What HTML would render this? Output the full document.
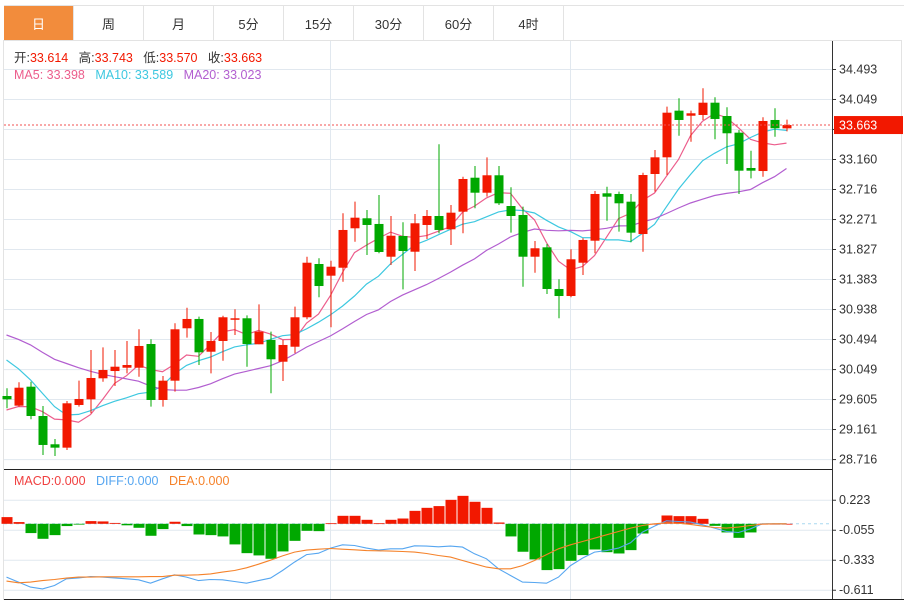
<!DOCTYPE html>
<html><head><meta charset="utf-8"><style>
body{margin:0;background:#fff;font-family:"Liberation Sans","Noto Sans CJK SC",sans-serif;}
#wrap{position:relative;width:908px;height:601px;overflow:hidden;}
.tabs{position:absolute;left:4px;top:5px;height:35px;width:900px;border-top:1px solid #e3e3e3;display:flex;}
.tab{width:70px;height:35px;box-sizing:border-box;border-right:1px solid #e3e3e3;font-size:13px;color:#333;display:flex;align-items:center;justify-content:center;}
.tab.on{background:#f28c3c;color:#fff;}
svg{position:absolute;left:0;top:0;}
</style></head><body><div id="wrap">
<div class="tabs">
<div class="tab on">日</div>
<div class="tab">周</div>
<div class="tab">月</div>
<div class="tab">5分</div>
<div class="tab">15分</div>
<div class="tab">30分</div>
<div class="tab">60分</div>
<div class="tab">4时</div>
</div>
<svg id="svg" width="908" height="601"></svg>
</div>
<script>
const opens=[29.650,29.507,29.788,29.354,28.935,28.885,29.517,29.601,29.912,30.020,30.069,30.069,30.420,29.591,29.877,30.653,30.791,30.306,30.465,30.791,30.801,30.416,30.480,30.158,30.380,30.816,31.605,31.432,31.550,32.134,32.282,32.198,31.713,32.020,31.787,32.183,32.316,32.119,32.380,32.883,32.661,32.919,32.464,32.331,31.713,31.852,31.235,31.131,31.624,31.950,32.652,32.642,32.528,32.049,32.938,33.185,33.876,33.801,33.812,33.994,33.797,33.550,33.027,32.982,33.738,33.614];
const closes=[29.601,29.773,29.354,28.925,28.885,29.542,29.606,29.917,30.035,30.084,30.109,30.391,29.591,29.877,30.638,30.791,30.297,30.465,30.816,30.801,30.420,30.603,30.194,30.406,30.816,31.624,31.279,31.565,32.109,32.291,32.183,31.783,32.024,31.798,32.208,32.316,32.109,32.365,32.864,32.661,32.919,32.504,32.316,31.713,31.838,31.235,31.131,31.675,31.961,32.642,32.602,32.504,32.069,32.923,33.185,33.846,33.738,33.837,33.994,33.753,33.541,32.987,32.987,33.723,33.615,33.663];
const highs=[29.764,29.853,29.862,29.502,29.013,29.576,29.877,30.331,30.371,30.331,30.465,30.638,30.490,29.946,30.727,30.958,30.825,30.598,30.839,30.934,30.845,31.008,30.603,30.480,30.973,31.713,31.690,31.654,32.356,32.528,32.405,32.627,32.316,32.223,32.346,32.405,33.378,32.479,32.898,33.057,33.185,33.057,32.741,32.454,31.946,31.901,31.379,31.823,31.986,32.686,32.750,32.676,32.642,32.957,33.293,33.935,34.059,33.876,34.207,34.074,33.926,33.590,33.283,33.778,33.911,33.743];
const lows=[29.468,29.492,29.305,28.776,28.762,28.850,29.492,29.394,29.862,29.798,29.986,29.936,29.492,29.492,29.714,30.514,30.109,29.986,30.173,30.554,30.084,30.416,29.690,29.872,30.283,30.786,31.112,30.668,31.343,31.935,31.738,31.764,31.590,31.230,31.501,31.975,32.060,31.887,32.060,32.430,32.602,32.479,32.069,31.269,31.476,31.161,30.801,31.112,31.442,31.764,32.246,32.084,31.927,31.787,32.676,32.923,33.505,33.416,33.738,33.452,33.086,32.642,32.874,32.898,33.490,33.570];
const priorCloses=[31.072,30.998,31.146,30.924,30.776,30.850,30.998,30.924,30.776,30.776,31.072,30.998,30.924,30.850,30.776,29.517,29.369,29.295,29.433];
const priceTicks=[34.493,34.049,33.605,33.160,32.716,32.271,31.827,31.383,30.938,30.494,30.049,29.605,29.161,28.716];
const macdHist=[0.062,0.016,-0.086,-0.139,-0.105,-0.021,-0.005,0.025,0.022,0.008,-0.014,-0.037,-0.111,-0.049,0.019,-0.021,-0.099,-0.105,-0.117,-0.191,-0.272,-0.293,-0.324,-0.256,-0.158,-0.065,-0.068,0.005,0.074,0.074,0.037,0.005,0.037,0.049,0.120,0.148,0.164,0.222,0.259,0.204,0.148,0.012,-0.117,-0.259,-0.330,-0.429,-0.420,-0.343,-0.290,-0.238,-0.263,-0.275,-0.244,-0.090,0.000,0.077,0.071,0.071,0.046,-0.019,-0.080,-0.130,-0.080,0,0,0];
const diffLine=[-0.494,-0.540,-0.587,-0.603,-0.572,-0.510,-0.501,-0.489,-0.494,-0.501,-0.510,-0.519,-0.550,-0.510,-0.473,-0.494,-0.526,-0.516,-0.519,-0.535,-0.550,-0.526,-0.503,-0.433,-0.355,-0.285,-0.272,-0.225,-0.195,-0.201,-0.225,-0.244,-0.232,-0.232,-0.204,-0.207,-0.213,-0.207,-0.216,-0.278,-0.324,-0.417,-0.479,-0.540,-0.544,-0.550,-0.494,-0.387,-0.318,-0.262,-0.248,-0.225,-0.176,-0.077,-0.021,0.028,0.021,0.016,-0.009,-0.040,-0.071,-0.081,-0.046,0,0,0];
const deaLine=[-0.531,-0.547,-0.540,-0.526,-0.516,-0.503,-0.494,-0.494,-0.491,-0.491,-0.491,-0.491,-0.489,-0.489,-0.476,-0.476,-0.473,-0.464,-0.448,-0.433,-0.408,-0.374,-0.337,-0.297,-0.262,-0.244,-0.235,-0.229,-0.235,-0.241,-0.248,-0.250,-0.253,-0.257,-0.262,-0.275,-0.294,-0.309,-0.340,-0.371,-0.401,-0.417,-0.417,-0.387,-0.340,-0.285,-0.232,-0.195,-0.164,-0.133,-0.102,-0.071,-0.040,-0.016,0,0.009,0.006,-0.006,-0.021,-0.034,-0.040,-0.031,-0.016,-0.003,0,0];
const macdTicks=[0.223,-0.055,-0.333,-0.611];

const NS='http://www.w3.org/2000/svg';
const svg=document.getElementById('svg');
const RED='#f21800',GREEN='#00a800';
function el(t,a,p){const e=document.createElementNS(NS,t);for(const k in a)e.setAttribute(k,a[k]);(p||svg).appendChild(e);return e;}
const X=i=>6.5+12*i;
const Y=p=>69+(34.493-p)/0.4443*30;
const MY=v=>523.8-v/0.278*30;
const frame=el('g',{});


el('rect',{x:3.5,y:40.5,width:898,height:559,fill:'none',stroke:'#e3e3e3'},frame);
priceTicks.forEach(t=>el('line',{x1:4,x2:832,y1:Y(t)+.5,y2:Y(t)+.5,stroke:'#e1e8ef'},frame));
macdTicks.forEach(t=>el('line',{x1:4,x2:832,y1:MY(t)+.5,y2:MY(t)+.5,stroke:'#e1e8ef'},frame));
[330.5,570.5].forEach(x=>el('line',{x1:x,x2:x,y1:41,y2:599,stroke:'#e1e8ef'},frame));
el('line',{x1:832.5,x2:832.5,y1:41,y2:600,stroke:'#333'},frame);
el('line',{x1:4,x2:832,y1:469.5,y2:469.5,stroke:'#222'},frame);
el('line',{x1:4,x2:904,y1:599.5,y2:599.5,stroke:'#222'},frame);
const ax=el('g',{});


priceTicks.forEach(t=>{el('line',{x1:832,x2:836,y1:Y(t)+.5,y2:Y(t)+.5,stroke:'#333'},ax);
 const tx=el('text',{x:839,y:Y(t)+4.5,'font-size':12.5,fill:'#333'},ax);tx.textContent=t.toFixed(3);
 
 });
const max=el('g',{});


macdTicks.forEach(t=>{el('line',{x1:832,x2:836,y1:MY(t)+.5,y2:MY(t)+.5,stroke:'#333'},max);
 const tx=el('text',{x:839,y:MY(t)+4.5,'font-size':12.5,fill:'#333'},max);tx.textContent=t.toFixed(3);
 
 });
const allC=priorCloses.concat(closes);
function ma(n){return closes.map((c,i)=>{let s=0;for(let k=0;k<n;k++)s+=allC[i+priorCloses.length-k];return s/n;});}
[[5,'#ec5d8c','ma5-line'],[10,'#3dc8e0','ma10-line'],[20,'#b25ed0','ma20-line']].forEach(([n,c,nm])=>{
 const m=ma(n);const pl=el('polyline',{points:m.map((v,i)=>X(i)+','+Y(v).toFixed(1)).join(' '),fill:'none',stroke:c,'stroke-width':1.2});
 
 });
const cg=el('g',{});


closes.forEach((c,i)=>{const o=opens[i];const col=c>=o?RED:GREEN;const g=el('g',{},cg);
 
 
 el('line',{x1:X(i)+.5,x2:X(i)+.5,y1:Y(highs[i]),y2:Y(lows[i]),stroke:col},g);
 const t=Math.min(Y(o),Y(c)),h=Math.max(1.5,Math.abs(Y(o)-Y(c)));
 el('rect',{x:X(i)-4,y:t,width:9,height:h,fill:col},g);});
const lp=closes[closes.length-1];
const lpl=el('line',{x1:4,x2:832,y1:Y(lp),y2:Y(lp),stroke:'#f25050','stroke-dasharray':'2,2'});


const lb=el('rect',{x:834,y:Y(lp)-9,width:69,height:18,fill:RED});


const lt=el('text',{x:839,y:Y(lp)+4.5,'font-size':12.5,fill:'#fff'});lt.textContent=lp.toFixed(3);
el('line',{x1:4,x2:832,y1:MY(0),y2:MY(0),stroke:'#a8d8f0','stroke-dasharray':'3,3'});
const hg=el('g',{});


macdHist.forEach((v,i)=>{const y0=MY(0),y1=MY(v);const r=el('rect',{x:X(i)-5,y:Math.min(y0,y1),width:11,height:Math.max(0.8,Math.abs(y1-y0)),fill:v>=0?RED:GREEN},hg);
 
 });
[[diffLine,'#56a6f0','diff-line'],[deaLine,'#f5822a','dea-line']].forEach(([d,c,nm])=>{
 const pl=el('polyline',{points:d.map((v,i)=>X(i)+','+MY(v).toFixed(1)).join(' '),fill:'none',stroke:c,'stroke-width':1.1});
 
 });
function legend(y,items,nm){const t=el('text',{x:14,y:y,'font-size':12.5});
 items.forEach(([s,c])=>{const sp=el('tspan',{fill:c},t);sp.textContent=s;});}
legend(62,[['开:','#333'],['33.614   ','#f21800'],['高:','#333'],['33.743   ','#f21800'],['低:','#333'],['33.570   ','#f21800'],['收:','#333'],['33.663','#f21800']],'ohlc-legend');
legend(79,[['MA5: 33.398   ','#ec5d8c'],['MA10: 33.589   ','#3dc8e0'],['MA20: 33.023','#b25ed0']],'ma-legend');
legend(485,[['MACD:0.000   ','#f04040'],['DIFF:0.000   ','#56a6f0'],['DEA:0.000','#f5822a']],'macd-legend');
svg.querySelectorAll('text').forEach(t=>t.style.whiteSpace='pre');
</script>
</body></html>
